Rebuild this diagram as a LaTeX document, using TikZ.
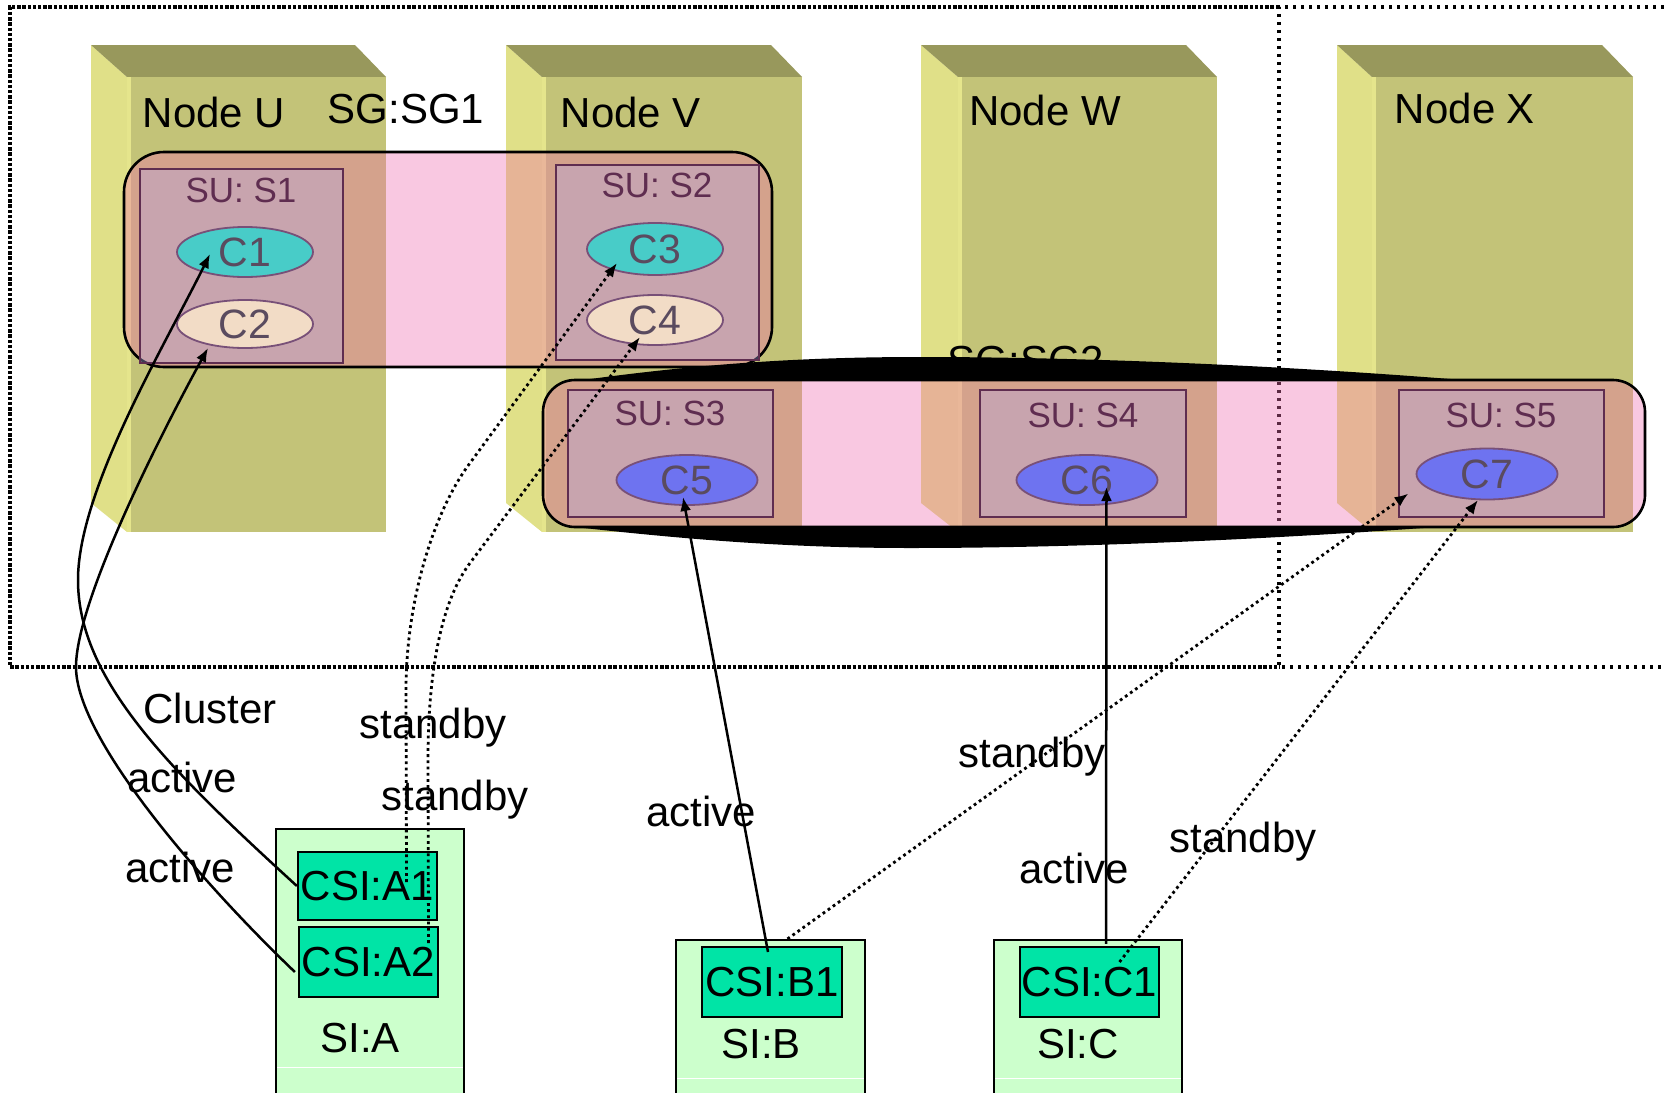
\documentclass[tikz,border=0pt]{standalone}
\usepackage{fontspec}
\setmainfont{Liberation Sans}
\usetikzlibrary{shapes.geometric,arrows.meta,calc}

\definecolor{nodeTop}{RGB}{152,152,92}
\definecolor{nodeSide}{RGB}{224,224,136}
\definecolor{nodeFront}{RGB}{195,195,120}
\definecolor{nodeEdge}{RGB}{229,229,140}
\definecolor{sgPink}{RGB}{240,110,175}
\definecolor{suTint}{RGB}{180,170,240}
\definecolor{suLine}{RGB}{95,45,80}
\definecolor{compLine}{RGB}{120,80,120}
\definecolor{compText}{RGB}{90,75,95}
\definecolor{tealComp}{RGB}{72,204,200}
\definecolor{peachComp}{RGB}{242,220,198}
\definecolor{blueComp}{RGB}{110,115,240}
\definecolor{siFill}{RGB}{204,255,204}
\definecolor{csiFill}{RGB}{0,228,166}

% a cluster node drawn as a 3D block: back-left x, front-left x, right x,
% label x, label name, label text, label baseline
\newcommand{\hwnode}[7]{%
  \fill[nodeSide] (#1,45) -- (#2,77) -- (#2,532) -- (#1,503) -- cycle;
  \fill[nodeTop] (#1,45) -- ({#3-31},45) -- (#3,77) -- (#2,77) -- cycle;
  \fill[nodeFront] (#2,77) rectangle (#3,532);
  \fill[nodeEdge] (#2,77) rectangle ({#2+4},532);
  \node[lbl, anchor=base] (#5) at (#4,#7) {#6};
}

\tikzset{
  lbl/.style={font=\fontsize{21pt}{24pt}\selectfont, inner sep=0pt},
  sulbl/.style={font=\fontsize{17.5pt}{20pt}\selectfont, text=suLine, inner sep=0pt, anchor=base},
  subox/.style={draw=suLine, line width=1.1pt, fill=suTint, fill opacity=0.35, inner sep=0pt},
  comp/.style={ellipse, draw=compLine, line width=0.9pt, inner sep=0pt, text=compText,
    font=\fontsize{20.5pt}{23pt}\selectfont},
  sgroup/.style={draw=black, line width=1.3pt, fill=sgPink, fill opacity=0.38},
  sibox/.style={draw=black, line width=1.1pt, fill=siFill, inner sep=0pt},
  csibox/.style={draw=black, line width=1.1pt, fill=csiFill, inner sep=0pt,
    font=\fontsize{21pt}{24pt}\selectfont},
  act/.style={line width=1.25pt, -{Latex[length=7pt,width=5.5pt]}},
  stby/.style={line width=1.4pt, dash pattern=on 1.4pt off 1.7pt, -{Latex[length=7pt,width=5.5pt]}},
  densebound/.style={line width=1.75pt, dash pattern=on 1.7pt off 0.9pt},
  sparsebound/.style={line width=1.6pt, dash pattern=on 1.6pt off 2.4pt},
}

\begin{document}
\begin{tikzpicture}[x=0.5pt,y=-0.5pt]
\useasboundingbox (0,0) rectangle (1664,1092);

% cluster boundary
\draw[densebound] (1279,7) -- (10,7) -- (10,667) -- (1279,667);
\draw[sparsebound] (1664,7) -- (1279,7) -- (1279,667) -- (1664,667);

% cluster nodes
\hwnode{91}{127}{386}{214}{nodeU}{Node U}{127}
\hwnode{506}{542}{802}{631}{nodeV}{Node V}{127}
\hwnode{921}{958}{1217}{1045}{nodeW}{Node W}{125}
\hwnode{1337}{1372}{1633}{1465}{nodeX}{Node X}{123}

\node[lbl, anchor=base] (sg1lbl) at (406,123) {SG:SG1};

% service group SG1
\path[sgroup, rounded corners=20pt] (124,152) rectangle (772,367);
\node[subox, minimum width=101.5pt, minimum height=97pt] (su1) at (241.5,266) {};
\node[subox, minimum width=101.5pt, minimum height=97.5pt] (su2) at (657.5,262.5) {};
\node[sulbl] (su1lbl) at (241,202) {SU: S1};
\node[sulbl] (su2lbl) at (657,197) {SU: S2};
\node[comp, fill=tealComp, minimum width=68pt, minimum height=25pt] (c1) at (245,252) {C1};
\node[comp, fill=peachComp, minimum width=68pt, minimum height=24pt] (c2) at (245,324) {C2};
\node[comp, fill=tealComp, minimum width=68pt, minimum height=26pt] (c3) at (655,249) {C3};
\node[comp, fill=peachComp, minimum width=68pt, minimum height=25pt] (c4) at (655,320) {C4};

% service group SG2 with its heavy outline
\node[lbl, anchor=base] (sg2lbl) at (1026,375) {SG:SG2};
\fill (583,380) .. controls (700,364) and (800,357) .. (920,357)
      .. controls (1100,357) and (1300,367) .. (1463,380) -- cycle;
\fill (575,527) .. controls (700,541) and (800,548) .. (910,548)
      .. controls (1100,548) and (1300,537) .. (1437,527) -- cycle;
\path[sgroup, rounded corners=16pt] (543,380) rectangle (1645,527);
\node[subox, minimum width=102.5pt, minimum height=63.5pt] (su3) at (670.5,453.5) {};
\node[subox, minimum width=103pt, minimum height=63.5pt] (su4) at (1083,453.5) {};
\node[subox, minimum width=102.5pt, minimum height=63.5pt] (su5) at (1501.5,453.5) {};
\node[sulbl] (su3lbl) at (670,425) {SU: S3};
\node[sulbl] (su4lbl) at (1083,427) {SU: S4};
\node[sulbl] (su5lbl) at (1501,427) {SU: S5};
\node[comp, fill=blueComp, minimum width=70.5pt, minimum height=25pt] (c5) at (687,480) {C5};
\node[comp, fill=blueComp, minimum width=70.5pt, minimum height=25pt] (c6) at (1087,480) {C6};
\node[comp, fill=blueComp, minimum width=70.5pt, minimum height=25.5pt] (c7) at (1487,474) {C7};

\node[lbl, anchor=base] (clusterlbl) at (210,723) {Cluster};

% service instances
\node[sibox, minimum width=94pt, minimum height=135.5pt] (siA) at (370,964.5) {};
\node[sibox, minimum width=94.5pt, minimum height=80pt] (siB) at (770.5,1020) {};
\node[sibox, minimum width=94pt, minimum height=80pt] (siC) at (1088,1020) {};
\draw[white, line width=0.5pt] (277,1067) -- (463,1067);
\draw[white, line width=0.5pt] (677,1078) -- (864,1078);
\draw[white, line width=0.5pt] (995,1078) -- (1181,1078);
\node[csibox, minimum width=69.5pt, minimum height=34pt] (csiA1) at (367.5,886) {CSI:A1};
\node[csibox, minimum width=69.5pt, minimum height=35pt] (csiA2) at (368.5,962) {CSI:A2};
\node[csibox, minimum width=70pt, minimum height=35pt] (csiB1) at (772,982) {CSI:B1};
\node[csibox, minimum width=69.5pt, minimum height=35pt] (csiC1) at (1089.5,982) {CSI:C1};
\node[lbl] (siAlbl) at (360,1038) {SI:A};
\node[lbl] (siBlbl) at (761,1044) {SI:B};
\node[lbl] (siClbl) at (1078,1044) {SI:C};

% assignments
\draw[act] (csiA1.west) .. controls (170,770) and (78,680) .. (78,580)
      .. controls (78,490) and (165,345) .. ($(c1)+(-35,2)$);
\draw[act] ($(csiA2.west)+(-3,10)$) .. controls (206,887) and (76,740) .. (76,667)
      .. controls (76,600) and (163,430) .. ($(c2)+(-37,24)$);
\draw[stby] ($(csiA1)+(39,-4)$) -- (406,690) .. controls (406,600) and (434,511) .. (470,463)
      -- ($(c3)+(-38,14)$);
\draw[stby] ($(csiA2)+(60,-19)$) -- (428,760) .. controls (428,700) and (434,611) .. (470,563)
      -- ($(c4)+(-15,17)$);
\draw[act] ($(csiB1)+(-4,-30)$) -- ($(c5)+(-4,17)$);
\draw[stby] ($(siB.north)+(17,0)$) -- ($(su5)+(-93,40)$);
\draw[act] ($(csiC1.north)+(16.5,-2)$) -- ($(c6)+(19.5,7)$);
\draw[stby] ($(csiC1)+(30,-20)$) -- ($(c7)+(-9,26)$);

\node[lbl, anchor=base] (actA1) at (182,792) {active};
\node[lbl, anchor=base] (actA2) at (180,882) {active};
\node[lbl, anchor=base] (stbyA1) at (433,738) {standby};
\node[lbl, anchor=base] (stbyA2) at (455,810) {standby};
\node[lbl, anchor=base] (actB) at (701,826) {active};
\node[lbl, anchor=base] (stbyB) at (1032,767) {standby};
\node[lbl, anchor=base] (actC) at (1074,883) {active};
\node[lbl, anchor=base] (stbyC) at (1243,852) {standby};
\end{tikzpicture}
\end{document}
